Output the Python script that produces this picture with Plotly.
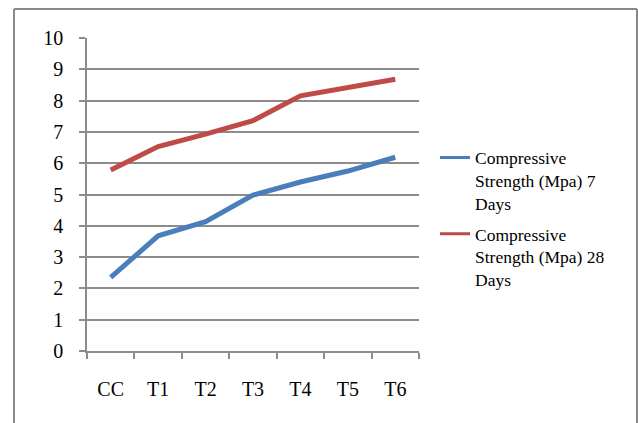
import plotly.graph_objects as go

categories = ["CC", "T1", "T2", "T3", "T4", "T5", "T6"]
strength_7 = [2.35, 3.68, 4.13, 4.98, 5.40, 5.75, 6.19]
strength_28 = [5.78, 6.53, 6.93, 7.36, 8.15, 8.40, 8.68]
name_7 = "Compressive<br>Strength (Mpa) 7<br>Days"
name_28 = "Compressive<br>Strength (Mpa) 28<br>Days"
y_ticks = list(range(0, 11))

blue = "#4A7EBB"
red = "#BE4B48"
grid = "#8C8C8C"
font = "Liberation Serif"

fig = go.Figure()
fig.add_trace(go.Scatter(x=categories, y=strength_7, mode="lines",
                         line=dict(color=blue, width=5), showlegend=False))
fig.add_trace(go.Scatter(x=categories, y=strength_28, mode="lines",
                         line=dict(color=red, width=5), showlegend=False))
# legend entries with thinner lines
fig.add_trace(go.Scatter(x=[None], y=[None], mode="lines", name=name_7,
                         legendgroup="a", line=dict(color=blue, width=3)))
fig.add_trace(go.Scatter(x=[None], y=[None], mode="lines", name=name_28,
                         legendgroup="b", line=dict(color=red, width=3)))

L, R, T, B = 87, 219, 38, 72
W, H = 638, 423
pw, ph = W - L - R, H - T - B

bx0, bx1 = (14 - L) / pw, (637 - L) / pw
by0, by1 = -(B + 20) / ph, (H - B - 9) / ph
border = dict(color="#888888", width=2)

fig.update_layout(
    width=W, height=H,
    margin=dict(l=L, r=R, t=T, b=B, autoexpand=False),
    paper_bgcolor="white", plot_bgcolor="white",
    font=dict(family=font, size=20, color="black"),
    legend=dict(x=1.0 + 16 / pw, y=0.675, xanchor="left", yanchor="top",
                font=dict(family=font, size=17.5, color="black"),
                valign="top", traceorder="grouped", tracegroupgap=5,
                itemwidth=30, bgcolor="rgba(0,0,0,0)"),
    xaxis=dict(type="category", range=[-0.5, 6.5], tickson="boundaries",
               ticks="outside", automargin=False,
               ticklen=6, tickcolor=grid, tickwidth=1.5,
               tickfont=dict(family=font, size=20, color="black"),
               showline=True, linecolor=grid, linewidth=1.5,
               showgrid=False, ticklabelstandoff=19, fixedrange=True),
    yaxis=dict(range=[0, 10], tickvals=y_ticks, ticks="outside",
               automargin=False,
               ticklen=6, tickcolor=grid, tickwidth=1.5,
               tickfont=dict(family=font, size=20, color="black"),
               showline=True, linecolor=grid, linewidth=1.5,
               showgrid=True, gridcolor=grid, gridwidth=1.5,
               zeroline=False, ticklabelstandoff=12, fixedrange=True),
    shapes=[
        dict(type="line", xref="paper", yref="paper", x0=bx0, x1=bx1, y0=by1, y1=by1, line=border),
        dict(type="line", xref="paper", yref="paper", x0=bx0, x1=bx0, y0=by0, y1=by1, line=border),
        dict(type="line", xref="paper", yref="paper", x0=bx1, x1=bx1, y0=by0, y1=by1, line=border),
    ],
)

fig.write_html("out.html", config={"displayModeBar": False},
               post_script="document.body.style.margin='0';document.body.style.overflow='hidden';")
